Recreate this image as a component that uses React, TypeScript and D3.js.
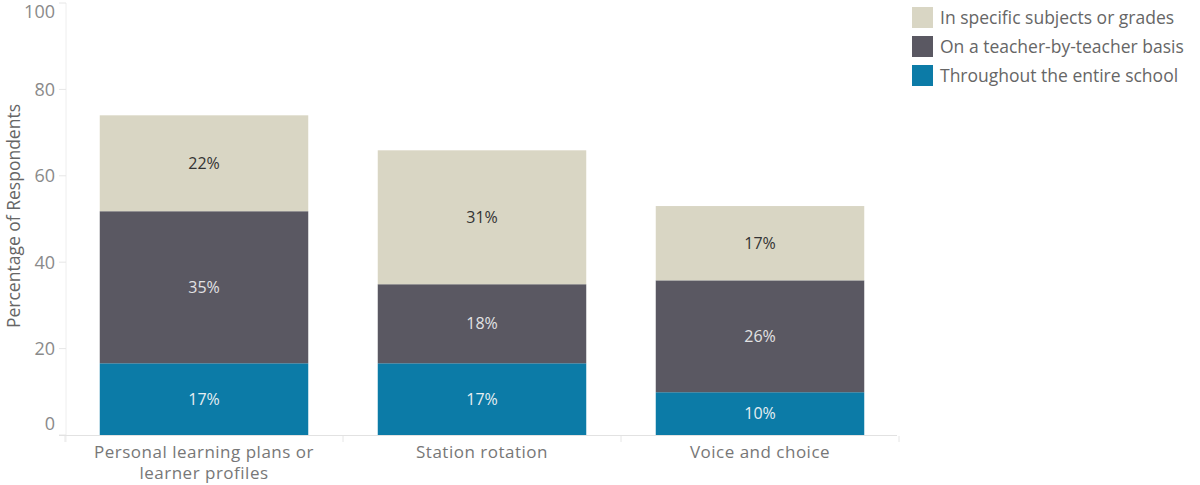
import React from "react";
import * as d3 from "d3";

const categories = ["Personal learning plans or\nlearner profiles", "Station rotation", "Voice and choice"];
const seriesNames = ["Throughout the entire school", "On a teacher-by-teacher basis", "In specific subjects or grades"];
const throughoutValues = [16.6, 16.6, 9.9];
const teacherValues = [35.2, 18.3, 25.9];
const specificValues = [22.2, 31.0, 17.2];
const seriesColors = ["#0c7ba7", "#5a5862", "#d9d6c4"];
const labelColors = ["#e6eef2", "#e2e2e4", "#333333"];
const yTicks = [0, 20, 40, 60, 80, 100];

const W = 1200, H = 485;
const FONT = "'Open Sans', 'Lato', sans-serif";

export default function App() {
  const x = d3.scaleBand<string>().domain(categories).range([65, 899]).paddingInner(0.25).paddingOuter(0.125);
  const y = d3.scaleLinear().domain([0, 100]).range([435, 3]);
  const rows = categories.map((c, i) => ({ cat: c, s0: throughoutValues[i], s1: teacherValues[i], s2: specificValues[i] }));
  const stack = d3.stack<any>().keys(["s0", "s1", "s2"])(rows);
  const bw = x.bandwidth();
  const step = x.step();
  return (
    <svg width={W} height={H} style={{ position: "absolute", left: 0, top: 0, fontFamily: FONT }}>
      {/* y axis */}
      <line x1={66} x2={66} y1={3} y2={442} stroke="#eeeeee" />
      {yTicks.map((t) => {
        let ty = y(t);
        if (t === 100) ty = 12;
        if (t === 0) ty = 424;
        return (
          <g key={t}>
            <line x1={59} x2={66} y1={y(t)} y2={y(t)} stroke="#e6e6e6" />
            <text x={55} y={ty} dy="0.35em" textAnchor="end" fontSize={18} fill="#8a8a8a">{t}</text>
          </g>
        );
      })}
      <text transform={`translate(20,216) rotate(-90)`} textAnchor="middle" fontSize={17.5} fill="#666">Percentage of Respondents</text>
      {/* bars */}
      {stack.map((layer, li) => (
        <g key={li}>
          {layer.map((d, i) => {
            const x0 = x(categories[i])!;
            const v = d[1] - d[0];
            return (
              <g key={i}>
                <rect x={x0} y={y(d[1])} width={bw} height={y(d[0]) - y(d[1])} fill={seriesColors[li]} />
                <text x={x0 + bw / 2} y={(y(d[0]) + y(d[1])) / 2} dy="0.35em" textAnchor="middle" fontSize={16} fill={labelColors[li]}>
                  {Math.round(v)}%
                </text>
              </g>
            );
          })}
        </g>
      ))}
      {/* x baseline */}
      <line x1={59} x2={897} y1={435.5} y2={435.5} stroke="#e2e2e2" />
      {categories.map((c, i) => (
        <line key={"bt" + i} x1={x(c)! - (step - bw) / 2} x2={x(c)! - (step - bw) / 2} y1={436} y2={442} stroke="#e6e6e6" />
      ))}
      <line x1={899} x2={899} y1={436} y2={442} stroke="#e6e6e6" />
      {categories.map((c, i) => (
        <text key={"xl" + i} x={x(c)! + bw / 2} y={458} textAnchor="middle" fontSize={17} letterSpacing={0.5} fill="#777">
          {c.split("\n").map((ln, j) => (
            <tspan key={j} x={x(c)! + bw / 2} dy={j === 0 ? 0 : 21}>{ln}</tspan>
          ))}
        </text>
      ))}
      {/* legend */}
      {[2, 1, 0].map((si, k) => (
        <g key={"lg" + si} transform={`translate(912,${7 + k * 29})`}>
          <rect width={21} height={21} fill={seriesColors[si]} />
          <text x={28} y={10.5} dy="0.35em" fontSize={17.5} fill="#666">{seriesNames[si]}</text>
        </g>
      ))}
    </svg>
  );
}
